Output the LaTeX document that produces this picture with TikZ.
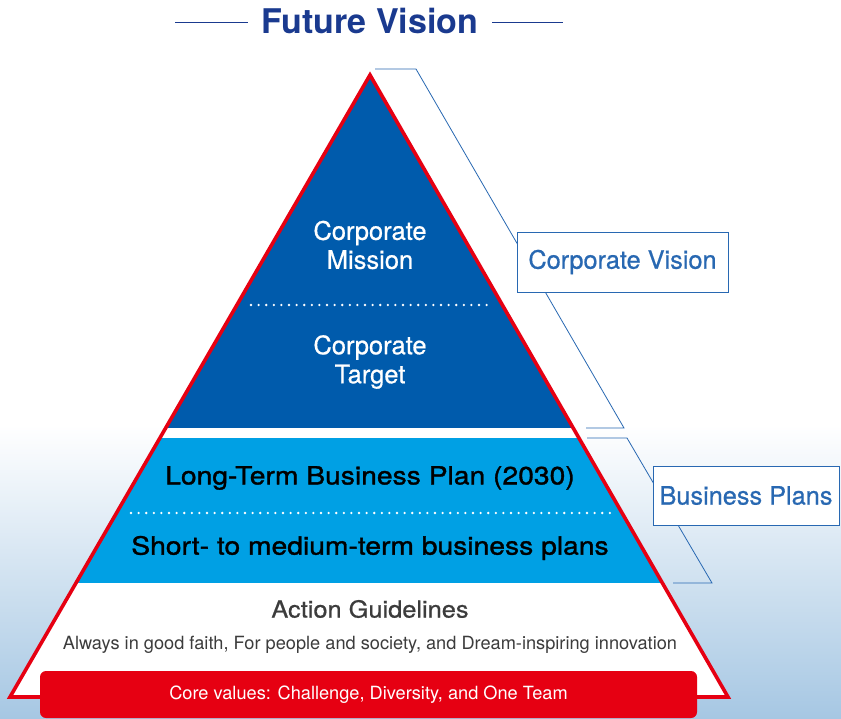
\documentclass[tikz,border=0pt]{standalone}
\usepackage{fontspec}
\setmainfont{TeX Gyre Heros}
\newfontfamily\medfont[FakeBold=0.7]{TeX Gyre Heros}
\newfontfamily\wideplan[FakeStretch=1.13,FakeBold=1.3]{TeX Gyre Heros}
\newfontfamily\wideguide[FakeStretch=1.08,FakeBold=0.7]{TeX Gyre Heros}
\definecolor{visionred}{RGB}{230,0,18}
\definecolor{darkblue}{RGB}{0,91,172}
\definecolor{lightblue}{RGB}{0,160,228}
\definecolor{navy}{RGB}{26,58,143}
\definecolor{linkblue}{RGB}{40,104,178}
\definecolor{bgblue}{RGB}{166,199,227}
\definecolor{guidegray}{RGB}{60,60,60}
\begin{document}
\begin{tikzpicture}[x=1pt,y=-1pt,
  thick,
  white text/.style={font=\medfont\fontsize{25.5}{29}\selectfont,text=white,align=center},
  plan text/.style={font=\wideplan\fontsize{25}{29}\selectfont,text=black},
  side box/.style={draw=linkblue,line width=0.8pt,fill=white,text=linkblue,
    font=\medfont\fontsize{25.3}{29}\selectfont,inner sep=0pt},
  bracket/.style={draw=linkblue,line width=0.8pt},
  dots/.style={white,line width=2.6pt,line cap=round,dash pattern=on 0pt off 7.6pt}]

  \useasboundingbox (0,0) rectangle (841,719);
  % background
  \fill[white] (0,0) rectangle (841,719);
  \shade[top color=white,bottom color=bgblue] (0,425) rectangle (841,719);

  % title
  \node[font=\fontsize{34}{38}\selectfont\bfseries,text=navy] (title) at (370,21) {Future Vision};
  \coordinate (tl) at (175,22);
  \coordinate (tr) at (563,22);
  \draw[navy,line width=0.8pt] (tl) -- (248,22);
  \draw[navy,line width=0.8pt] (492,22) -- (tr);

  % pyramid
  \coordinate (apex) at (370,75);
  \coordinate (bl) at (10,697);
  \coordinate (br) at (728,697);
  \begin{scope}
    \clip (apex) -- (bl) -- (br) -- cycle;
    \fill[white] (0,60) rectangle (841,700);
    \fill[darkblue] (0,60) rectangle (841,428);
    \fill[lightblue] (0,438) rectangle (841,583);
  \end{scope}
  \draw[visionred,line width=3.6pt,line join=miter] (apex) -- (bl) -- (br) -- cycle;

  \coordinate (d1l) at (251,305);
  \coordinate (d1r) at (490,305);
  \coordinate (d2l) at (131,513);
  \coordinate (d2r) at (612,513);
  \draw[dots] (d1l) -- (d1r);
  \draw[dots] (d2l) -- (d2r);

  \node[white text] (mission) at (370,245) {Corporate\\Mission};
  \node[white text] (target) at (370,362) {Corporate\\Target};
  \node[plan text] (longterm) at (370,478) {Long-Term Business Plan (2030)};
  \node[plan text] (shortterm) at (370,548) {Short- to medium-term business plans};
  \node[font=\wideguide\fontsize{23.5}{27}\selectfont,text=guidegray] (guide) at (370,609) {Action Guidelines};
  \node[font=\fontsize{18.2}{21}\selectfont,text=guidegray] (faith) at (370,645)
    {Always in good faith, For people and society, and Dream-inspiring innovation};

  % core values
  \node[fill=visionred,rounded corners=6pt,minimum width=657pt,minimum height=47pt,
    text=white,font=\fontsize{18.2}{21}\selectfont] (core) at (368.5,694.5)
    {Core values: Challenge, Diversity, and One Team};

  % brackets
  \coordinate (cv1) at (375,69);
  \coordinate (cv2) at (416,69);
  \coordinate (cv3) at (624,428);
  \coordinate (cv4) at (586,428);
  \coordinate (bp1) at (587,438);
  \coordinate (bp2) at (627,438);
  \coordinate (bp3) at (712,583);
  \coordinate (bp4) at (673,583);
  \draw[bracket] (cv1) -- (cv2) -- (cv3) -- (cv4);
  \draw[bracket] (bp1) -- (bp2) -- (bp3) -- (bp4);

  \node[side box,minimum width=211pt,minimum height=60pt] (vision) at (622.5,262) {Corporate Vision};
  \node[side box,minimum width=186pt,minimum height=59pt] (plans) at (746,495.5) {Business Plans};
\end{tikzpicture}
\end{document}
